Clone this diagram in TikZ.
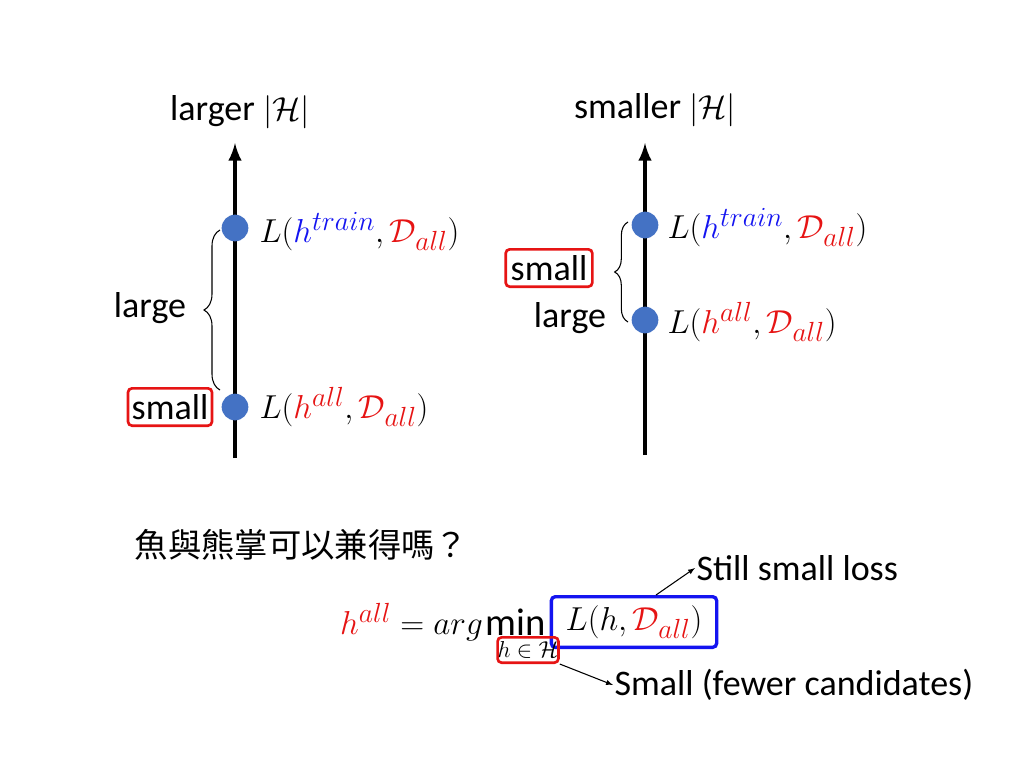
\documentclass[tikz,border=0pt]{standalone}
\usepackage{fontspec}
\setmainfont{Carlito}
\newfontfamily\cjk{Noto Sans CJK TC}
\usetikzlibrary{decorations.pathreplacing}
\definecolor{dotblue}{RGB}{68,114,196}
\definecolor{mred}{RGB}{230,20,20}
\definecolor{mblue}{RGB}{20,20,240}
\begin{document}
\begin{tikzpicture}[x=0.75pt,y=-0.75pt,
    txt/.style={font=\fontsize{27}{32}\selectfont,inner sep=1pt},
    mth/.style={font=\fontsize{29}{34}\selectfont,inner sep=1pt},
    dot/.style={circle,fill=dotblue,minimum size=20pt,inner sep=0},
    axis/.style={line width=3.5pt,-latex},
    redbox/.style={draw=mred,line width=2pt,rounded corners=3pt,inner sep=0},
    bluebox/.style={draw=mblue,line width=2.5pt,rounded corners=3pt,inner sep=0}]
	\useasboundingbox (0,0) rectangle (1024,768);
	% left axis
	\coordinate (La) at (235,458);
	\coordinate (Lb) at (235,143);
	\draw[axis] (La) -- (Lb);
	\node (T1) at (240,112) [txt] {larger $|\mathcal{H}|$};
	\node (P1) at (235,228) [dot] {};
	\node (P2) at (235,407) [dot] {};
	\node (Q1) at (258,232) [mth,anchor=west] {$L\big(\textcolor{mblue}{h^{train}},\textcolor{mred}{\mathcal{D}_{all}}\big)$};
	\node (Q2) at (258,407) [mth,anchor=west] {$L\big(\textcolor{mred}{h^{all}},\textcolor{mred}{\mathcal{D}_{all}}\big)$};
	\draw[thick,decorate,decoration={brace,amplitude=12pt}] (220,390) -- (220,230);
	\node (B1) at (150,308) [txt] {large};
	\node (S1) at (170,407) [txt,redbox,minimum width=63pt,minimum height=28pt] {small};
	% right axis
	\coordinate (Ra) at (645,455);
	\coordinate (Rb) at (645,143);
	\draw[axis] (Ra) -- (Rb);
	\node (T2) at (655,110) [txt] {smaller $|\mathcal{H}|$};
	\node (P3) at (645,225) [dot] {};
	\node (P4) at (645,320) [dot] {};
	\node (Q3) at (666,228) [mth,anchor=west] {$L\big(\textcolor{mblue}{h^{train}},\textcolor{mred}{\mathcal{D}_{all}}\big)$};
	\node (Q4) at (666,322) [mth,anchor=west] {$L\big(\textcolor{mred}{h^{all}},\textcolor{mred}{\mathcal{D}_{all}}\big)$};
	\draw[thick,decorate,decoration={brace,amplitude=10pt}] (628,322) -- (628,222);
	\node (S2) at (549,268) [txt,redbox,minimum width=65pt,minimum height=28pt] {small};
	\node (B2) at (570,318) [txt] {large};
	% question and formula
	\node (C) at (130,545) [anchor=west,font=\fontsize{25}{30}\cjk] {魚與熊掌可以兼得嗎？};
	\node (K) at (634,622) [bluebox,mth,minimum width=124pt,minimum height=38pt] {$L\big(h,\textcolor{mred}{\mathcal{D}_{all}}\big)$};
	\node (M) at (516,622) [mth] {$\min$};
	\node (R) at (528,650) [redbox,font=\fontsize{18}{20}\selectfont,minimum width=30pt,minimum height=19pt] {$h\in\mathcal{H}$};
	\node (F) at (M.west) [mth,anchor=east] {$\textcolor{mred}{h^{all}} = arg$};
	\node (N1) at (695,568) [txt,anchor=west] {Still small loss};
	\node (N2) at (613,685) [txt,anchor=west] {Small (fewer candidates)};
	\draw[thick,-latex] (K.north) ++(22,0) -- (N1.west);
	\draw[thick,-latex] (R.south east) -- (N2.west);
\end{tikzpicture}
\end{document}
